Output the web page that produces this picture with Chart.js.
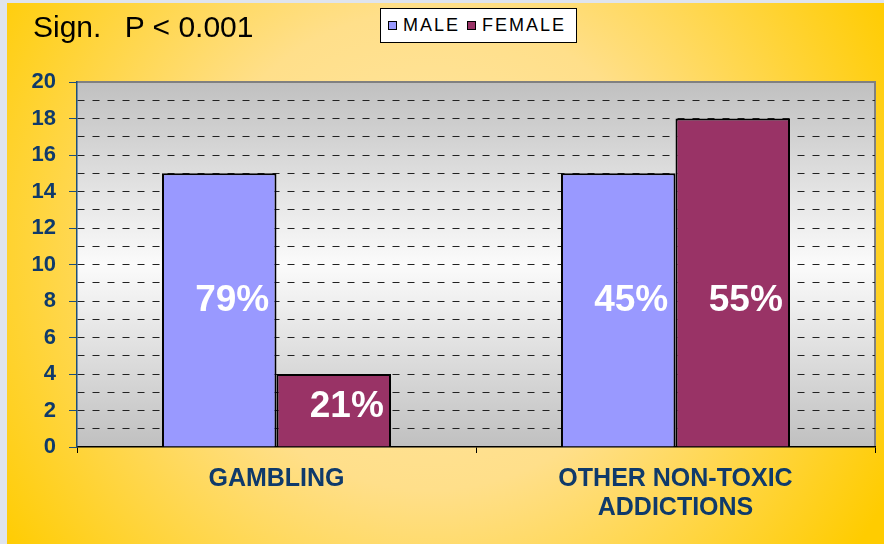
<!DOCTYPE html>
<html>
<head>
<meta charset="utf-8">
<script src="https://cdn.jsdelivr.net/npm/chart.js@4/dist/chart.umd.min.js"></script>
<style>
  html, body { margin: 0; padding: 0; background: #dfe4ee; }
  #wrap { position: relative; width: 884px; height: 544px; }
  #title {
    position: absolute; left: 33px; top: 10px; line-height: 30px;
    font: 30px "Liberation Sans", Arial, sans-serif; color: #000;
    white-space: pre;
  }
  #title .p { margin-left: 15px; }
  #legend {
    position: absolute; left: 380px; top: 8px; width: 197px; height: 35px;
    border: 1px solid #000; background: #fff;
    font: 18px "Liberation Sans", Arial, sans-serif; color: #000; letter-spacing: 2px;
    display: flex; align-items: center; padding-left: 7px; box-sizing: border-box;
  }
  .sw { display: inline-block; width: 7px; height: 7px; border: 1px solid #000; margin-right: 6px; }
  .item { margin-right: 7px; display: flex; align-items: center; }
</style>
</head>
<body>
<div id="wrap">
  <canvas id="myChart" width="884" height="544"></canvas>
  <div id="title">Sign. <span class="p">P &lt; 0.001</span></div>
  <div id="legend">
    <span class="item"><span class="sw" style="background:#9999ff"></span>MALE</span>
    <span class="item"><span class="sw" style="background:#993366"></span>FEMALE</span>
  </div>
</div>
<script>
const categories = ["GAMBLING", ["OTHER NON-TOXIC", "ADDICTIONS"]];
const maleValues = [15, 15];
const femaleValues = [4, 18];
const maleShare = ["79%", "45%"];
const femaleShare = ["21%", "55%"];
// value on the y axis where each share label sits
const maleLabelAt = [8, 8];
const femaleLabelAt = [2.2, 8];

const navy = "#0f3a6b";

// yellow slide background and grey plot area
const backgroundPlugin = {
  id: "background",
  beforeDraw(chart) {
    const ctx = chart.ctx;
    const a = chart.chartArea;
    ctx.save();
    ctx.fillStyle = "#dfe4ee";
    ctx.fillRect(0, 0, chart.width, chart.height);
    const g = ctx.createRadialGradient(430, 250, 10, 430, 250, 520);
    g.addColorStop(0, "#ffe7a6");
    g.addColorStop(0.45, "#ffdf8a");
    g.addColorStop(0.8, "#ffd332");
    g.addColorStop(1, "#ffcc00");
    ctx.fillStyle = g;
    ctx.fillRect(7, 3, chart.width - 7, chart.height - 3);
    const pg = ctx.createLinearGradient(0, a.top, 0, a.bottom);
    pg.addColorStop(0, "#c0c0c0");
    pg.addColorStop(0.5, "#fbfbfb");
    pg.addColorStop(1, "#c0c0c0");
    ctx.fillStyle = pg;
    ctx.fillRect(a.left, a.top, a.right - a.left, a.bottom - a.top);
    ctx.strokeStyle = "#808080";
    ctx.lineWidth = 2;
    ctx.beginPath();
    ctx.moveTo(a.left, a.top);
    ctx.lineTo(a.right, a.top);
    ctx.lineTo(a.right, a.bottom);
    ctx.stroke();
    ctx.restore();
  },
};

// white percentage labels inside the bars
const shareLabels = {
  id: "shareLabels",
  afterDatasetsDraw(chart) {
    const ctx = chart.ctx;
    const y = chart.scales.y;
    const sets = [
      [0, maleShare, maleLabelAt],
      [1, femaleShare, femaleLabelAt],
    ];
    ctx.save();
    ctx.fillStyle = "#fff";
    ctx.font = "bold 37px 'Liberation Sans', Arial, sans-serif";
    ctx.textAlign = "center";
    ctx.textBaseline = "middle";
    sets.forEach(([di, texts, at]) => {
      chart.getDatasetMeta(di).data.forEach((bar, i) => {
        ctx.fillText(texts[i], bar.x + 13, y.getPixelForValue(at[i]));
      });
    });
    ctx.restore();
  },
};

new Chart(document.getElementById("myChart"), {
  type: "bar",
  data: {
    labels: categories,
    datasets: [
      {
        label: "MALE",
        data: maleValues,
        backgroundColor: "#9999ff",
        borderColor: "#000",
        borderWidth: 2,
      },
      {
        label: "FEMALE",
        data: femaleValues,
        backgroundColor: "#993366",
        borderColor: "#000",
        borderWidth: 2,
      },
    ],
  },
  options: {
    responsive: false,
    animation: false,
    layout: { padding: { top: 82, right: 9, left: 0, bottom: 0 } },
    datasets: {
      bar: { categoryPercentage: 0.574, barPercentage: 1 },
    },
    plugins: {
      legend: { display: false },
      tooltip: { enabled: false },
    },
    scales: {
      x: {
        afterFit: (s) => { s.height = 97; },
        grid: {
          drawOnChartArea: false,
          drawTicks: true,
          tickLength: 6,
          tickColor: "#000",
        },
        border: { color: "#000", width: 1.5 },
        ticks: {
          color: navy,
          padding: 12,
          font: { family: "'Liberation Sans', Arial, sans-serif", size: 25, weight: "bold", lineHeight: 1.16 },
        },
      },
      y: {
        min: 0,
        max: 20,
        afterFit: (s) => { s.width = 77; },
        ticks: {
          stepSize: 1,
          autoSkip: false,
          color: navy,
          padding: 13,
          font: { family: "'Liberation Sans', Arial, sans-serif", size: 22, weight: "bold" },
          callback: (v) => (v % 2 === 0 ? v : ""),
        },
        grid: {
          tickLength: 8,
          lineWidth: 1,
          color: (c) => (c.tick && (c.tick.value === 0 || c.tick.value === 20) ? "transparent" : "#222"),
          tickColor: (c) => (c.tick && c.tick.value % 2 === 0 ? "#1f4e79" : "transparent"),
        },
        border: { color: "#1f4e79", width: 1.5, dash: [7, 8] },
      },
    },
  },
  plugins: [backgroundPlugin, shareLabels],
});
</script>
</body>
</html>
